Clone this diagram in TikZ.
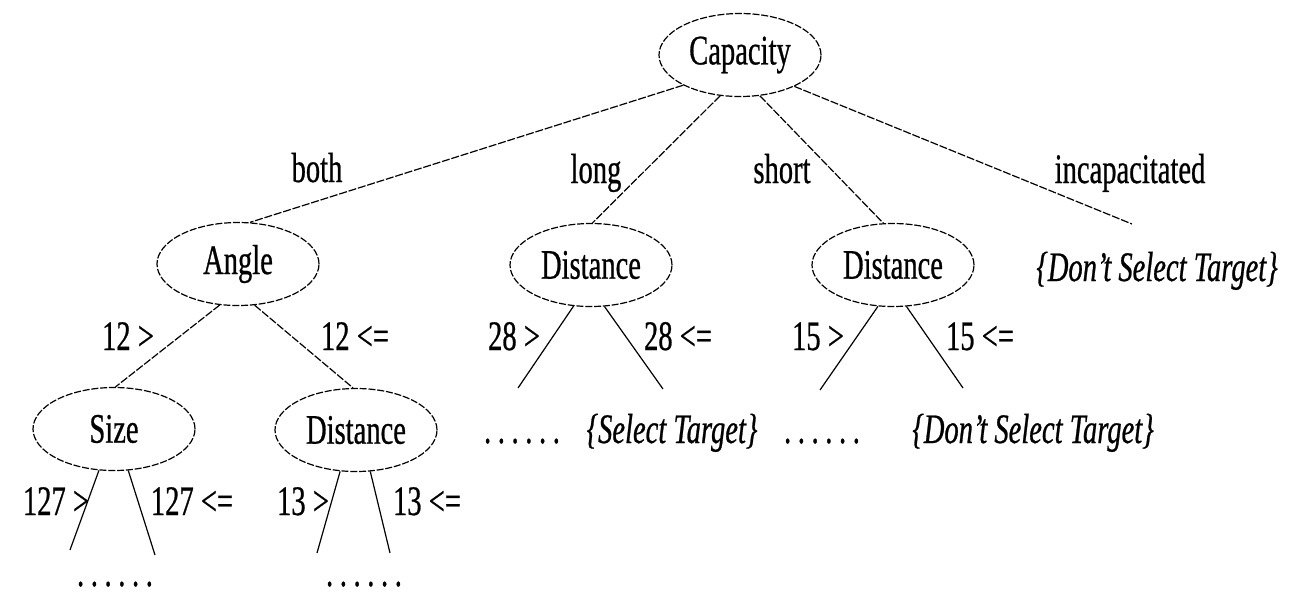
\documentclass[tikz,border=0pt]{standalone}
\usepackage{fontspec}
\setmainfont{Liberation Serif}[FakeStretch=0.68,FakeBold=0.6]
\usetikzlibrary{shapes.geometric}
\newcommand{\sixdots}{.\hspace{3.3pt}.\hspace{3.3pt}.\hspace{3.3pt}.\hspace{3.3pt}.\hspace{3.3pt}.}
\begin{document}
\begin{tikzpicture}[x=0.5pt,y=-0.5pt,
  font=\fontsize{21pt}{25pt}\selectfont,
  treenode/.style={ellipse,draw,line width=0.6pt,dash pattern=on 3.5pt off 0.9pt,
     minimum width=81pt,minimum height=41.5pt,inner sep=0pt},
  lbl/.style={anchor=base,inner sep=0pt},
  scanline/.style={line width=0.6pt,dash pattern=on 4pt off 0.9pt},
  edge/.style={line width=0.6pt}]
\useasboundingbox (0,0) rectangle (1306,596);
% tree nodes
\node[treenode] (cap) at (740,55) {Capacity};
\node[treenode] (angle) at (238,264) {Angle};
\node[treenode] (dlong) at (591,265) {Distance};
\node[treenode] (dshort) at (893,265) {Distance};
\node[treenode] (size) at (114,429) {Size};
\node[treenode] (dthree) at (356,430) {Distance};
% free ends
\coordinate (incapend) at (1132,224);
\coordinate (dlongL) at (518,388);
\coordinate (dlongR) at (663,389);
\coordinate (dshortL) at (820,390);
\coordinate (dshortR) at (963,388);
\coordinate (sizeL) at (70,550);
\coordinate (sizeR) at (155,555);
\coordinate (dthreeL) at (317,553);
\coordinate (dthreeR) at (390,553);
% connectors
\draw[scanline] (cap.208) -- (angle.74);
\draw[scanline] (cap.244) -- (dlong.88);
\draw[scanline] (cap.296) -- (dshort.103);
\draw[scanline] (cap.330) -- (incapend);
\draw[scanline] (angle.246) -- (size.88);
\draw[scanline] (angle.292) -- (dthree.94);
\draw[edge] (dlong.247) -- (dlongL);
\draw[edge] (dlong.288) -- (dlongR);
\draw[edge] (dshort.250) -- (dshortL);
\draw[edge] (dshort.288) -- (dshortR);
\draw[edge] (size.250) -- (sizeL);
\draw[edge] (size.289) -- (sizeR);
\draw[edge] (dthree.249) -- (dthreeL);
\draw[edge] (dthree.289) -- (dthreeR);
% edge labels level 1
\node[lbl] (lboth) at (317,182) {both};
\node[lbl] (llong) at (596,183) {long};
\node[lbl] (lshort) at (782,183) {short};
\node[lbl] (lincap) at (1130,183) {incapacitated};
\node[lbl] (leaf1) at (1157,281) {\itshape\{Don't Select Target\}};
% level 2 labels
\node[lbl] (l12a) at (128,350) {12 >};
\node[lbl] (l12b) at (355,350) {12 <=};
\node[lbl] (l28a) at (514,350) {28 >};
\node[lbl] (l28b) at (678,350) {28 <=};
\node[lbl] (l15a) at (818,350) {15 >};
\node[lbl] (l15b) at (980,350) {15 <=};
% level 3 row
\node[lbl] (dotsA) at (522,443) {\sixdots};
\node[lbl] (leaf2) at (672,443) {\itshape\{Select Target\}};
\node[lbl] (dotsB) at (822,443) {\sixdots};
\node[lbl] (leaf3) at (1033,443) {\itshape\{Don't Select Target\}};
% level 3 labels
\node[lbl] (l127a) at (56,515) {127 >};
\node[lbl] (l127b) at (192,515) {127 <=};
\node[lbl] (l13a) at (303,515) {13 >};
\node[lbl] (l13b) at (427,515) {13 <=};
% bottom dots
\node[lbl] (dotsC) at (115,586) {\sixdots};
\node[lbl] (dotsD) at (364,586) {\sixdots};
\end{tikzpicture}
\end{document}
